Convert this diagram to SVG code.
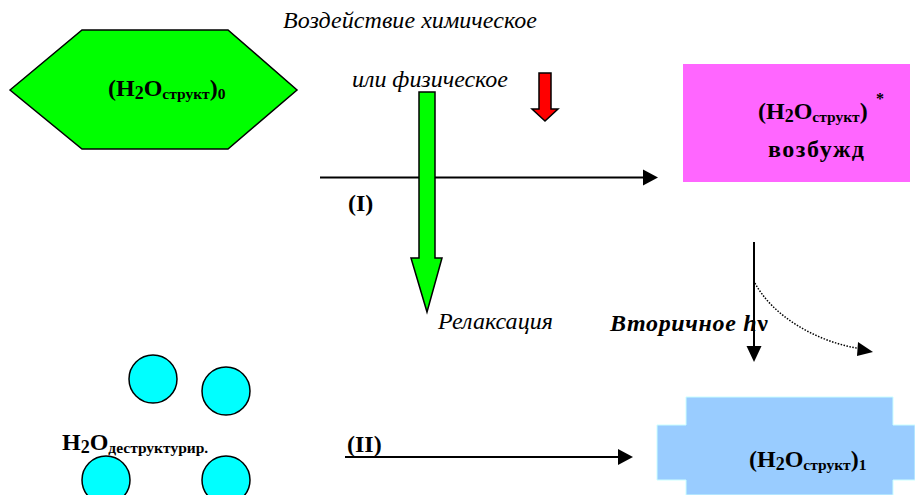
<svg xmlns="http://www.w3.org/2000/svg" width="915" height="495" viewBox="0 0 915 495">
<defs>
<style>
text{font-family:'Liberation Serif','DejaVu Serif',serif;fill:#000}
.b{font-weight:bold}
.i{font-style:italic}
.big{font-size:24px}
.sub{font-size:15.5px}
.two{font-size:18px}
.ln{stroke:#000;stroke-width:2;fill:none}
.sh{stroke:#000;stroke-width:1.5}
</style>
</defs>
<rect width="915" height="495" fill="#fff"/>
<g id="n-hex">
<polygon class="sh" points="10,90 82,30 228,30 297,90 228,149 82,149" fill="#00ff00"/>
<text class="b big" x="108" y="96">(H<tspan class="two" dy="3">2</tspan><tspan dy="-3">O</tspan><tspan class="sub" dy="3">структ</tspan><tspan dy="-3">)</tspan><tspan class="sub" dy="3">0</tspan></text>
</g>
<g id="n-excited">
<rect x="683" y="64" width="227" height="118" fill="#ff66ff"/>
<text class="b big" x="758" y="119">(H<tspan class="two" dy="3">2</tspan><tspan dy="-3">O</tspan><tspan class="sub" dy="3">структ</tspan><tspan dy="-3">)</tspan></text>
<text class="b" font-size="16" x="876" y="104">*</text>
<text class="b big" x="768" y="157" textLength="96" lengthAdjust="spacing">возбужд</text>
</g>
<g id="n-destruct">
<circle class="sh" cx="153" cy="379" r="24" fill="#00ffff"/>
<circle class="sh" cx="226" cy="391" r="24" fill="#00ffff"/>
<circle class="sh" cx="106" cy="480" r="24" fill="#00ffff"/>
<circle class="sh" cx="226" cy="480" r="24" fill="#00ffff"/>
<text class="b big" x="62" y="450">H<tspan class="two" dy="3">2</tspan><tspan dy="-3">O</tspan><tspan class="sub" dy="3">деструктурир.</tspan></text>
</g>
<g id="n-struct1">
<polygon points="686,397 893,397 893,425 915,425 915,480 893,480 893,495 686,495 686,480 657,480 657,425 686,425" fill="#99ccff" stroke="#ccffff" stroke-width="1"/>
<text class="b big" x="749" y="467">(H<tspan class="two" dy="3">2</tspan><tspan dy="-3">O</tspan><tspan class="sub" dy="3">структ</tspan><tspan dy="-3">)</tspan><tspan class="sub" dy="3">1</tspan></text>
</g>
<g id="connectors">
<line class="ln" x1="320" y1="177.5" x2="645" y2="177.5"/>
<polygon points="643,169.5 658,177.5 643,185.5" fill="#000"/>
<polygon class="sh" points="419,92 435,92 435,258 442,258 427,312 411,258 419,258" fill="#00ff00"/>
<polygon class="sh" points="539,73 551,73 551,109 558,109 545,121 532,109 539,109" fill="#ff0000"/>
<line class="ln" x1="754" y1="242" x2="754" y2="348"/>
<polygon points="746.5,346 761.5,346 754,362" fill="#000"/>
<path d="M755,283 C772,315 815,342 862,349" stroke="#000" stroke-width="1.5" stroke-dasharray="1.5,1.5" fill="none"/>
<polygon points="858,342 873,352 857,356" fill="#000"/>
<line class="ln" x1="345" y1="457" x2="620" y2="457"/>
<polygon points="618,449 633,457 618,465" fill="#000"/>
</g>
<text class="i" font-size="24" x="283" y="28" textLength="254" lengthAdjust="spacing">Воздействие химическое</text>
<text class="i" font-size="24" x="352" y="87" textLength="156" lengthAdjust="spacing">или физическое</text>
<text class="b big" x="348" y="211">(I)</text>
<text class="b big" x="347" y="452">(II)</text>
<text class="i" font-size="24" x="438" y="329" textLength="115" lengthAdjust="spacing">Релаксация</text>
<text class="b i" font-size="24" x="610" y="331" textLength="158" lengthAdjust="spacing">Вторичное h<tspan font-style="normal">ν</tspan></text>
</svg>
